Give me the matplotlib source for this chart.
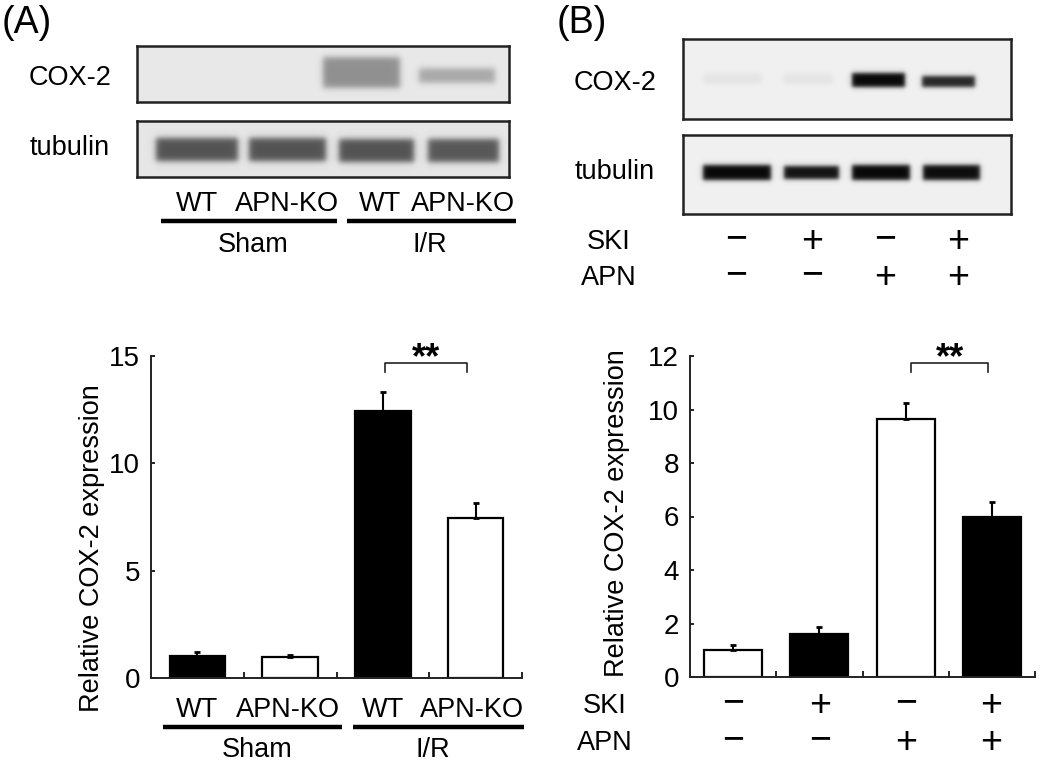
import matplotlib
matplotlib.use("Agg")
import matplotlib.pyplot as plt
import numpy as np

plt.rcParams['font.family'] = ['Liberation Sans', 'DejaVu Sans']

W, H = 1050, 770

# ---- data ----
lanes_a = ["WT", "APN-KO", "WT", "APN-KO"]
groups_a = ["Sham", "I/R"]
cox2_a = [1.04, 1.00, 12.42, 7.47]
err_a = [0.15, 0.08, 0.88, 0.68]
colors_a = ["black", "white", "black", "white"]

ski = ["\u2212", "+", "\u2212", "+"]
apn = ["\u2212", "\u2212", "+", "+"]
cox2_b = [1.02, 1.62, 9.65, 5.97]
err_b = [0.18, 0.25, 0.58, 0.59]
colors_b = ["white", "black", "white", "black"]

# band darkness per lane (0 = none, 1 = black)
blot_a_cox2 = [0.0, 0.0, 0.38, 0.28]
blot_a_tub = [0.64, 0.64, 0.64, 0.62]
blot_b_cox2 = [0.05, 0.05, 0.97, 0.85]
blot_b_tub = [0.97, 0.93, 0.97, 0.95]

fig = plt.figure(figsize=(W / 100, H / 100), dpi=100)


def px_axes(x0, y0, x1, y1):
    return fig.add_axes([x0 / W, 1 - y1 / H, (x1 - x0) / W, (y1 - y0) / H])


def blot(box, lanes, yband, dark, bg, soft):
    x0, y0, x1, y1 = box
    ax = px_axes(x0, y0, x1, y1)
    xs = np.arange(x0, x1) + 0.5
    ys = np.arange(y0, y1) + 0.5
    X, Y = np.meshgrid(xs, ys)
    tot = np.zeros_like(X)
    for (l, r), (t, b), d in zip(lanes, yband, dark):
        sx = 0.5 * (np.tanh((X - l) / soft) - np.tanh((X - r) / soft))
        sy = 0.5 * (np.tanh((Y - t) / soft) - np.tanh((Y - b) / soft))
        tot += d * sx * sy
    img = bg * (1 - np.clip(tot, 0, 1))
    ax.imshow(img, cmap="gray", vmin=0, vmax=1, extent=(x0, x1, y1, y0),
              aspect="auto", interpolation="bilinear")
    ax.set_xlim(x0, x1)
    ax.set_ylim(y1, y0)
    ax.set_xticks([])
    ax.set_yticks([])
    for s in ax.spines.values():
        s.set_linewidth(1.8)
        s.set_color("#222222")
    return ax


# ---- blots ----
blot((137, 46, 509, 102), [(155, 238), (248, 327), (323, 400), (419, 495)],
     [(70, 82), (70, 82), (58, 88), (69, 83)], blot_a_cox2, 0.91, 3.5)
blot((137, 121, 509, 177), [(156, 238), (249, 326), (339, 414), (428, 499)],
     [(138, 161), (138, 161), (139, 162), (139, 162)], blot_a_tub, 0.90, 3.5)
blot((683, 39, 1011, 119), [(704, 762), (784, 833), (852, 905), (922, 975)],
     [(74, 84), (74, 84), (73, 87), (76, 87)], blot_b_cox2, 0.94, 2.5)
blot((683, 135, 1011, 214), [(703, 771), (784, 839), (852, 910), (923, 980)],
     [(165, 180), (166, 179), (165, 180), (165, 180)], blot_b_tub, 0.94, 2.5)


def bar_panel(box, vals, errs, cols, width, ymax, yticks):
    x0, y0, x1, y1 = box
    ax = px_axes(x0, y0, x1, y1)
    xpos = np.arange(len(vals)) + 0.5
    ax.bar(xpos, vals, width=width, color=cols, edgecolor="black",
           linewidth=1.6, zorder=2)
    ax.errorbar(xpos, vals, yerr=[np.zeros(len(errs)), errs], fmt="none",
                ecolor="black", elinewidth=1.5, capsize=2.5, capthick=2,
                zorder=3)
    ax.set_xlim(0, len(vals))
    ax.set_ylim(0, ymax)
    ax.set_yticks(yticks)
    ax.set_xticks([1, 2, 3, 4])
    ax.set_xticklabels([])
    ax.tick_params(axis="y", direction="in", length=3, width=1.2,
                   labelsize=20, pad=8)
    ax.tick_params(axis="x", direction="in", length=4, width=1.2)
    for s in ("top", "right"):
        ax.spines[s].set_visible(False)
    for s in ("left", "bottom"):
        ax.spines[s].set_linewidth(1.4)
        ax.spines[s].set_color("#222222")
    ax.patch.set_alpha(0)
    return ax


bar_panel((151, 356, 522, 678), cox2_a, err_a, colors_a, 0.6, 15,
          [0, 5, 10, 15])
bar_panel((690, 356, 1035, 677), cox2_b, err_b, colors_b, 0.67, 12,
          [0, 2, 4, 6, 8, 10, 12])

# ---- overlay for labels and brackets ----
ov = fig.add_axes([0, 0, 1, 1])
ov.set_xlim(0, W)
ov.set_ylim(H, 0)
ov.axis("off")
ov.patch.set_alpha(0)

fs = 19.5
ov.text(27, 23, "(A)", fontsize=27, ha="center", va="center")
ov.text(582, 23, "(B)", fontsize=27, ha="center", va="center")

ov.text(70, 78, "COX-2", fontsize=fs, ha="center", va="center")
ov.text(70, 148, "tubulin", fontsize=fs, ha="center", va="center")
ov.text(615, 83, "COX-2", fontsize=fs, ha="center", va="center")
ov.text(615, 172, "tubulin", fontsize=fs, ha="center", va="center")

# panel A lane labels (blot and bar chart)
for ytxt, yline, ygrp, xs, lines, gx in [
        (204, 221, 245, [197, 287, 380, 463], [(161, 337), (347, 516)], [253, 430]),
        (710, 727, 750, [197, 288, 383, 472], [(163, 342), (353, 524)], [257, 433])]:
    for x, lab in zip(xs, lanes_a):
        ov.text(x, ytxt, lab, fontsize=fs, ha="center", va="center")
    for (l, r) in lines:
        ov.plot([l, r], [yline, yline], color="black", lw=3.2,
                solid_capstyle="butt")
    for x, g in zip(gx, groups_a):
        ov.text(x, ygrp, g, fontsize=fs, ha="center", va="center")

# panel B treatment rows (blot and bar chart)
for yski, yapn, xl, xs in [(242, 278, 609, [736, 812, 885, 958]),
                           (706, 743, 605, [733, 820, 906, 991])]:
    ov.text(xl, yski, "SKI", fontsize=fs, ha="center", va="center")
    ov.text(xl, yapn, "APN", fontsize=fs, ha="center", va="center")
    for x, s1, s2 in zip(xs, ski, apn):
        ov.text(x, yski + (-3 if s1 != "+" else 0), s1, fontsize=27,
                ha="center", va="center")
        ov.text(x, yapn + (-3 if s2 != "+" else 0), s2, fontsize=27,
                ha="center", va="center")

# y labels
ov.text(92, 548, "Relative COX-2 expression", fontsize=fs, rotation=90,
        ha="center", va="center")
ov.text(617, 513, "Relative COX-2 expression", fontsize=fs, rotation=90,
        ha="center", va="center")

# significance brackets
for l, r in [(385, 467), (911, 988)]:
    ov.plot([l, l, r, r], [372, 363, 363, 372], color="#222222", lw=1.2)
    ov.text((l + r) / 2, 359, "**", fontsize=26, fontweight="bold",
            ha="center", va="center")

fig.savefig("out.png", dpi=100)
